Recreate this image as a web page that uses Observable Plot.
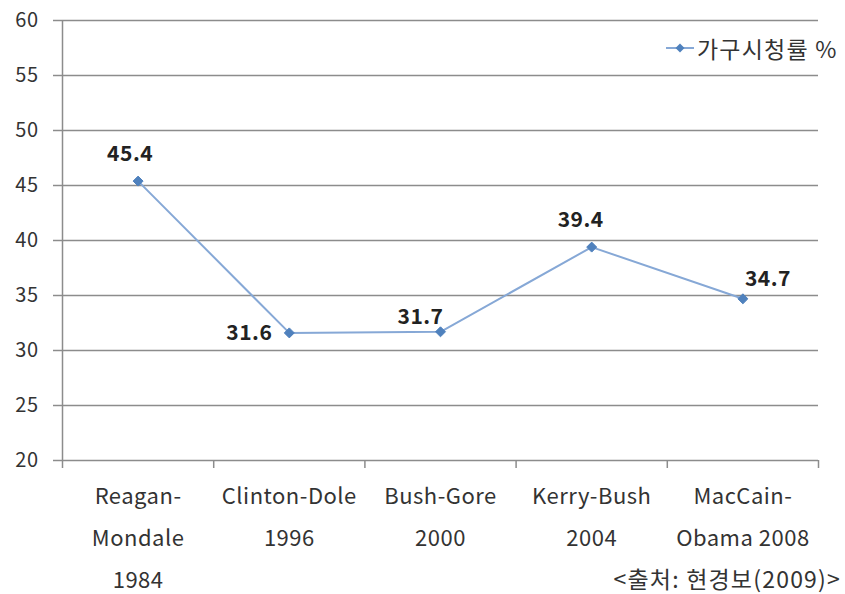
<!DOCTYPE html>
<html>
<head>
<meta charset="utf-8">
<script src="https://cdn.jsdelivr.net/npm/d3@7"></script>
<script src="https://cdn.jsdelivr.net/npm/@observablehq/plot@0.6"></script>
<style>
  body { margin: 0; background: #fff; }
  #wrap { position: relative; width: 845px; height: 594px; overflow: hidden; font-family: "Noto Sans CJK KR", "Noto Sans", sans-serif; }
  #legend { position: absolute; left: 666px; top: 31px; font-size: 23px; color: #333; display: flex; align-items: center; gap: 3px; letter-spacing: 1.2px; }
  #source { position: absolute; right: 4px; top: 564px; font-size: 23px; line-height: 28px; color: #333; letter-spacing: 1.2px; }
  #chart svg text { letter-spacing: 0.5px; }
</style>
</head>
<body>
<div id="wrap">
  <div id="chart"></div>
  <div id="legend">
    <svg width="28" height="12"><line x1="0" y1="6" x2="28" y2="6" stroke="#86a8d6" stroke-width="2"/><path d="M14,1.5L18.5,6L14,10.5L9.5,6Z" fill="#4f81bd"/></svg>
    <span>가구시청률 %</span>
  </div>
  <div id="source">&lt;출처: 현경보(2009)&gt;</div>
</div>
<script>
// Presidential debate household ratings by election
const categories = ["Reagan-\nMondale\n1984", "Clinton-Dole\n1996", "Bush-Gore\n2000", "Kerry-Bush\n2004", "MacCain-\nObama 2008"];
const ratings = [45.4, 31.6, 31.7, 39.4, 34.7];
const yTicks = [20, 25, 30, 35, 40, 45, 50, 55, 60];

const rows = categories.map((c, i) => ({pos: i + 0.5, category: c, value: ratings[i]}));
const edges = d3.range(categories.length + 1);
const centers = rows.map(d => d.pos);

// label placement around each point
const place = [
  {dx: -8, dy: -27},
  {dx: -40, dy: 0},
  {dx: -20, dy: -15},
  {dx: -11, dy: -27},
  {dx: 25, dy: -20}
];

const chart = Plot.plot({
  width: 845,
  height: 594,
  marginLeft: 62,
  marginRight: 27,
  marginTop: 20,
  marginBottom: 134,
  style: {fontFamily: "'Noto Sans CJK KR', 'Noto Sans', sans-serif", background: "#fff", overflow: "visible"},
  x: {domain: [0, categories.length], axis: null},
  y: {domain: [20, 60], axis: null},
  marks: [
    Plot.ruleY(yTicks, {stroke: "#8c8c8c", strokeWidth: 1.5, strokeOpacity: 1}),
    Plot.axisY({ticks: yTicks, label: null, tickSize: 9, tickPadding: 15, stroke: "#8c8c8c", strokeWidth: 1.5, fontSize: 20, fill: "#333", strokeOpacity: 1}),
    Plot.ruleX([0], {stroke: "#8c8c8c", strokeWidth: 1.5}),
    Plot.axisX({ticks: edges, label: null, tickSize: 8, tickFormat: () => "", stroke: "#8c8c8c", strokeWidth: 1.5, strokeOpacity: 1}),
    Plot.axisX({ticks: centers, label: null, tickSize: 0, tickPadding: 14, tickFormat: (d) => categories[Math.floor(d)], fontSize: 22, fill: "#333", lineHeight: 1.9}),
    Plot.line(rows, {x: "pos", y: "value", stroke: "#86a8d6", strokeWidth: 2}),
    Plot.dot(rows, {x: "pos", y: "value", symbol: "diamond2", r: 4.5, fill: "#4f81bd", stroke: "#4f81bd", strokeWidth: 1}),
    ...rows.map((d, i) => Plot.text([d], {x: "pos", y: "value", text: (r) => r.value.toFixed(1), dx: place[i].dx, dy: place[i].dy, fontSize: 21, fontWeight: "bold", fill: "#222"}))
  ]
});
document.getElementById("chart").appendChild(chart);
</script>
</body>
</html>
